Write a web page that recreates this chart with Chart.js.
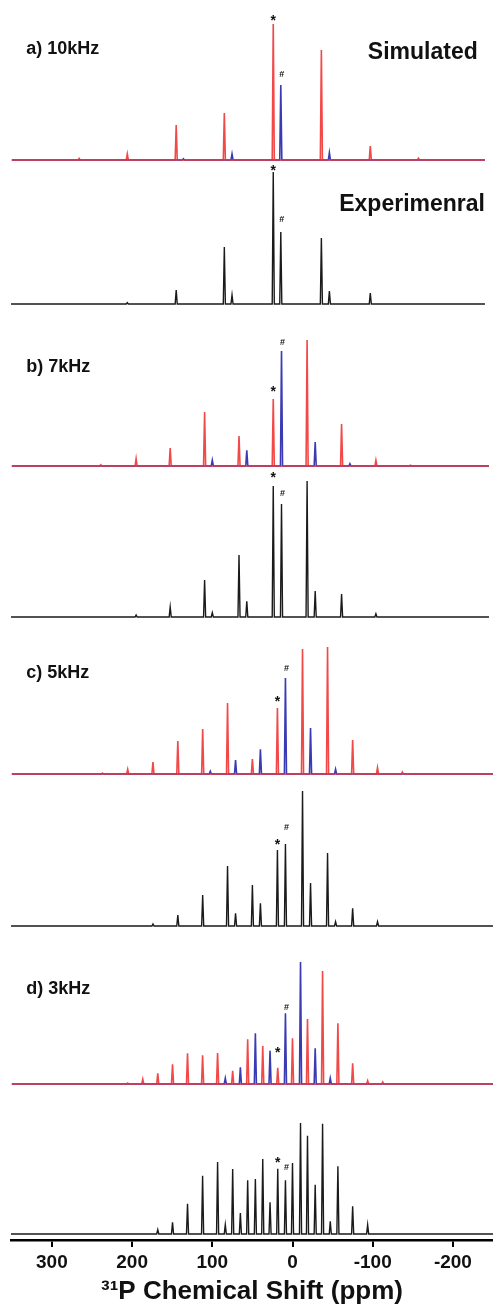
<!DOCTYPE html>
<html>
<head>
<meta charset="utf-8">
<script src="https://cdn.jsdelivr.net/npm/chart.js@4.4.1/dist/chart.umd.min.js"></script>
<style>
  html, body { margin: 0; padding: 0; background: #fff; }
  #wrap { width: 493px; height: 1313px; position: relative; }
</style>
</head>
<body>
<div id="wrap"><canvas id="nmr"></canvas></div>
<script>
// 31P MAS spectra, simulated (red/blue sites) and experimental, at 4 spinning rates
// peaks are [ppm, intensity]

const ppmTicks = [300, 200, 100, 0, -100, -200];

// a) 10 kHz
const aSimRed  = [[266, 1.5], [206, 6], [145, 35], [85, 47], [24, 136], [-36, 110], [-97, 14], [-157, 1.7]];
const aSimBlue = [[136, 1.3], [75.4, 6], [14.6, 75], [-46, 7.3]];
const aExp     = [[206, 1.3], [145, 14], [85, 57], [75.4, 9], [24, 132], [14.6, 72], [-36, 66], [-46, 13], [-97, 11]];

// b) 7 kHz
const bSimRed  = [[239, 1.3], [195, 7.3], [152.5, 18], [109.6, 54], [66.7, 30], [24, 67], [-18.2, 126], [-61.2, 42], [-104, 5.7], [-147, 0.7]];
const bSimBlue = [[100, 5.7], [57, 15.7], [13.7, 115], [-28.3, 24], [-71.6, 2.3]];
const bExp     = [[195, 2], [152.5, 10], [109.6, 37], [100, 4.3], [66.7, 62], [57, 15.7], [24, 131], [13.7, 113], [-18.2, 136], [-28.3, 26], [-61.2, 23], [-104, 3.3]];

// c) 5 kHz
const cSimRed  = [[237, 1], [205.5, 4.7], [174, 12], [143, 33], [112, 45], [81, 71], [50, 15], [18.8, 66], [-12.5, 125], [-43.7, 127], [-75, 34], [-106, 6.3], [-137, 2]];
const cSimBlue = [[102.5, 2.7], [71, 14], [40, 24.7], [8.8, 96], [-22.5, 46], [-53.7, 4.7]];
const cExp     = [[174, 2], [143, 11], [112, 31], [81, 60], [71, 12.7], [50, 41], [40, 22.7], [18.8, 76], [8.8, 82], [-12.5, 135], [-22.5, 43], [-43.7, 73], [-53.7, 4.3], [-75, 17.7], [-106, 4.3]];

// d) 3 kHz
const dSimRed  = [[205.5, 1], [186.7, 4.7], [168, 10.7], [149.6, 19.7], [130.9, 30.7], [112.1, 28.7], [93.4, 31], [74.6, 13.3], [55.9, 44.7], [37.1, 38], [18.4, 16.3], [0, 45.7], [-18.7, 65], [-37.5, 113], [-56.6, 60.7], [-75, 20.7], [-93.7, 3.3], [-112.5, 2]];
const dSimBlue = [[83.8, 5.7], [65, 16.7], [46.3, 50.7], [28, 33.3], [8.8, 70.7], [-10, 122], [-28.3, 35.7], [-47.1, 5.7]];
const dExp     = [[168, 4.3], [149.6, 11.7], [130.9, 30.3], [112.1, 58.3], [93.4, 72], [83.8, 9.3], [74.6, 65], [65, 21], [55.9, 53.7], [46.3, 55], [37.1, 75], [28, 31.7], [18.4, 65.3], [8.8, 53.7], [0, 71], [-10, 111], [-18.7, 98.3], [-28.3, 49.3], [-37.5, 110.3], [-47.1, 12.7], [-56.6, 67.7], [-75, 27.7], [-93.7, 9.3]];

// stacking: vertical offset of each trace in the shared y units
const stackBase = { aSim: 1080, aExp: 936, bSim: 774, bExp: 623, cSim: 466, cExp: 314, dSim: 156, dExp: 6 };

const RED = 'rgba(240,40,40,0.85)';
const BLUE = '#3a3ab4';
const BLACK = '#1a1a1a';
const peakHalfWidth = 1.3;   // ppm
const xMin = -250, xMax = 351;

function trace(peaks, base, from, to) {
  const sorted = peaks.slice().sort((p, q) => q[0] - p[0]);
  const pts = [{ x: from, y: base }];
  for (const [ppm, h] of sorted) {
    pts.push({ x: ppm + peakHalfWidth, y: base });
    pts.push({ x: ppm, y: base + h });
    pts.push({ x: ppm - peakHalfWidth, y: base });
  }
  pts.push({ x: to, y: base });
  return pts;
}

function ds(data, color, width) {
  return { data, borderColor: color, borderWidth: width, pointRadius: 0, tension: 0, fill: false };
}

// first dataset in the list is drawn on top, so red goes before blue
const datasets = [
  ds(trace(aSimRed, stackBase.aSim, 350, -240), RED, 1.6),
  ds(trace(aSimBlue, stackBase.aSim, 350, -240), BLUE, 1.6),
  ds(trace(aExp, stackBase.aExp, 351, -240), BLACK, 1.4),
  ds(trace(bSimRed, stackBase.bSim, 350, -245), RED, 1.6),
  ds(trace(bSimBlue, stackBase.bSim, 350, -245), BLUE, 1.6),
  ds(trace(bExp, stackBase.bExp, 351, -245), BLACK, 1.4),
  ds(trace(cSimRed, stackBase.cSim, 350, -250), RED, 1.6),
  ds(trace(cSimBlue, stackBase.cSim, 350, -250), BLUE, 1.6),
  ds(trace(cExp, stackBase.cExp, 351, -250), BLACK, 1.4),
  ds(trace(dSimRed, stackBase.dSim, 350, -250), RED, 1.6),
  ds(trace(dSimBlue, stackBase.dSim, 350, -250), BLUE, 1.6),
  ds(trace(dExp, stackBase.dExp, 351, -250), BLACK, 1.4)
];

// text labels: [text, ppm, y, align, size]
const labels = [
  ['a) 10kHz', 332, 1191, 'left', 18],
  ['Simulated', -231, 1187, 'right', 23],
  ['Experimenral', -240, 1035, 'right', 23],
  ['b) 7kHz', 332, 873, 'left', 18],
  ['c) 5kHz', 332, 567, 'left', 18],
  ['d) 3kHz', 332, 251, 'left', 18]
];

// peak markers: [peaks, base key, ppm, symbol, gap above peak top]
const markers = [
  [aSimRed, 'aSim', 24, '*', 7], [aSimBlue, 'aSim', 14.6, '#', 11],
  [aExp, 'aExp', 24, '*', 5], [aExp, 'aExp', 14.6, '#', 13],
  [bSimRed, 'bSim', 24, '*', 11], [bSimBlue, 'bSim', 13.7, '#', 9],
  [bExp, 'bExp', 24, '*', 12], [bExp, 'bExp', 13.7, '#', 11],
  [cSimRed, 'cSim', 18.8, '*', 10], [cSimBlue, 'cSim', 8.8, '#', 10],
  [cExp, 'cExp', 18.8, '*', 9], [cExp, 'cExp', 8.8, '#', 17],
  [dSimRed, 'dSim', 18.4, '*', 19], [dSimBlue, 'dSim', 8.8, '#', 7],
  [dExp, 'dExp', 18.4, '*', 10], [dExp, 'dExp', 8.8, '#', 14]
];

const FONT = "'Liberation Sans', Arial, sans-serif";

const annotate = {
  id: 'annotate',
  afterDatasetsDraw(chart) {
    const { ctx, scales: { x, y } } = chart;
    ctx.save();
    ctx.fillStyle = '#111';
    ctx.textBaseline = 'middle';
    for (const [text, ppm, v, align, size] of labels) {
      ctx.font = `bold ${size}px ${FONT}`;
      ctx.textAlign = align;
      ctx.fillText(text, x.getPixelForValue(ppm), y.getPixelForValue(v));
    }
    ctx.textAlign = 'center';
    ctx.textBaseline = 'alphabetic';
    for (const [peaks, key, ppm, sym, gap] of markers) {
      const pk = peaks.find(p => p[0] === ppm);
      const top = y.getPixelForValue(stackBase[key] + pk[1]);
      const cy = top - gap;
      if (sym === '*') {
        ctx.font = `bold 14px ${FONT}`;
        ctx.fillText('*', x.getPixelForValue(ppm), cy + 0.58 * 14);
      } else {
        ctx.font = `bold 9px ${FONT}`;
        ctx.fillText('#', x.getPixelForValue(ppm) + 1, cy + 0.36 * 9);
      }
    }
    ctx.restore();
  }
};

new Chart(document.getElementById('nmr'), {
  type: 'line',
  data: { datasets },
  options: {
    responsive: true,
    maintainAspectRatio: false,
    animation: false,
    events: [],
    layout: { padding: { left: 11, right: 0, top: 0, bottom: 0 } },
    plugins: { legend: { display: false }, tooltip: { enabled: false } },
    scales: {
      x: {
        type: 'linear',
        reverse: true,
        min: xMin,
        max: xMax,
        afterBuildTicks: axis => { axis.ticks = ppmTicks.map(v => ({ value: v })); },
        afterFit: axis => { axis.height = 73; },
        border: { display: true, color: '#000', width: 2.5 },
        grid: { drawOnChartArea: false, drawTicks: true, tickLength: 7, color: '#000', lineWidth: 2 },
        ticks: { color: '#111', padding: 4, maxRotation: 0, autoSkip: false, font: { family: FONT, size: 19, weight: 'bold' } },
        title: {
          display: true,
          text: '³¹P Chemical Shift (ppm)',
          color: '#111',
          padding: { top: 0, bottom: 6 },
          font: { family: FONT, size: 26, weight: 'bold' }
        }
      },
      y: { display: false, min: 0, max: 1240 }
    }
  },
  plugins: [annotate]
});
</script>
</body>
</html>
